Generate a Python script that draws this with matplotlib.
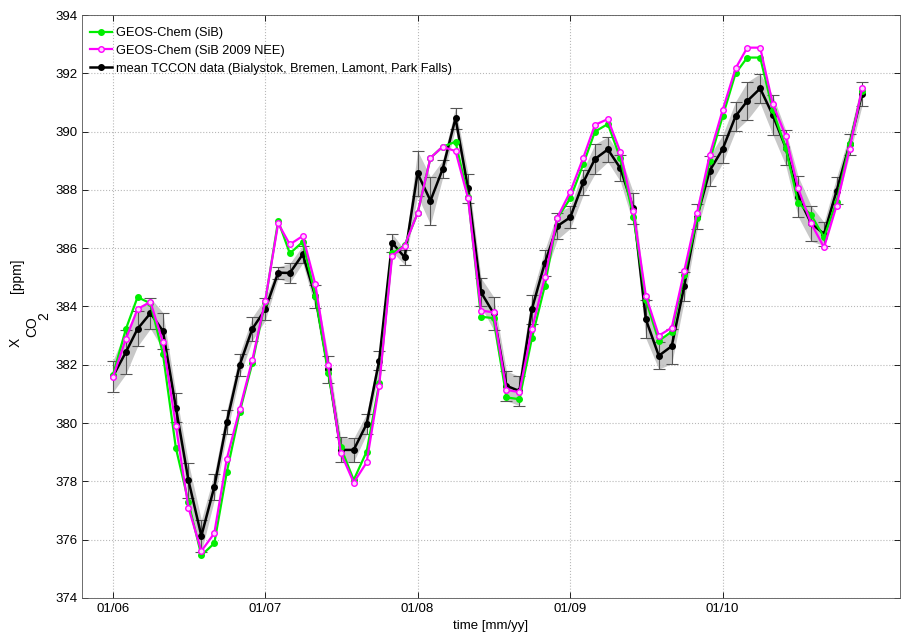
import numpy as np
import pandas as pd
import matplotlib
matplotlib.use('Agg')
import matplotlib.pyplot as plt
import matplotlib.dates as mdates

plt.rcParams['font.family'] = ['Liberation Sans', 'DejaVu Sans']

# monthly means, Jan 2006 - Dec 2010
months = pd.date_range('2006-01-01', periods=60, freq='MS')
year_ticks = pd.date_range('2006-01-01', periods=5, freq='YS')

geos_sib = [381.64, 383.22, 384.32, 384.11, 382.37, 379.14, 377.30, 375.46, 375.88, 378.32,
            380.39, 382.05, 384.16, 386.94, 385.82, 386.22, 384.37, 381.73, 379.17, 378.05,
            379.02, 381.36, 385.82, 386.10, 387.20, 389.10, 389.48, 389.65, 387.77, 383.65,
            383.60, 380.88, 380.82, 382.91, 384.71, 387.03, 387.71, 388.88, 390.00, 390.26,
            389.08, 387.08, 384.22, 382.82, 383.14, 385.08, 387.03, 389.00, 390.52, 392.00,
            392.54, 392.54, 390.74, 389.45, 387.56, 387.14, 386.37, 387.60, 389.56, 391.40]

geos_sib09 = [381.57, 382.88, 383.91, 384.16, 382.77, 379.90, 377.10, 375.61, 376.22, 378.78,
              380.49, 382.16, 384.20, 386.85, 386.13, 386.42, 384.77, 381.99, 378.98, 377.96,
              378.65, 381.28, 385.73, 386.09, 387.20, 389.10, 389.48, 389.33, 387.71, 383.86,
              383.80, 381.14, 381.06, 383.22, 385.00, 387.05, 387.94, 389.10, 390.23, 390.43,
              389.30, 387.28, 384.37, 383.00, 383.27, 385.22, 387.22, 389.20, 390.74, 392.17,
              392.88, 392.88, 390.95, 389.86, 388.05, 386.85, 386.03, 387.46, 389.40, 391.48]

tccon = [381.60, 382.43, 383.23, 383.77, 383.16, 380.53, 378.04, 376.13, 377.81, 380.04,
         382.00, 383.23, 383.90, 385.16, 385.15, 385.79, 384.35, 381.85, 379.08, 379.08,
         379.97, 382.14, 386.19, 385.69, 388.57, 387.63, 388.71, 390.46, 388.05, 384.49,
         383.77, 381.28, 381.10, 383.91, 385.50, 386.76, 387.06, 388.26, 389.06, 389.39,
         388.74, 387.37, 383.56, 382.31, 382.64, 384.70, 387.08, 388.66, 389.40, 390.53,
         391.05, 391.48, 390.57, 389.45, 387.77, 386.85, 386.49, 387.97, 389.56, 391.29]

tccon_err = [0.54, 0.75, 0.60, 0.53, 0.63, 0.50, 0.60, 0.55, 0.45, 0.40,
             0.38, 0.40, 0.38, 0.20, 0.33, 0.30, 0.40, 0.46, 0.43, 0.40,
             0.35, 0.32, 0.31, 0.25, 0.77, 0.82, 0.30, 0.36, 0.51, 0.49,
             0.57, 0.51, 0.50, 0.50, 0.44, 0.46, 0.38, 0.43, 0.51, 0.43,
             0.45, 0.54, 0.65, 0.46, 0.60, 0.50, 0.43, 0.51, 0.48, 0.50,
             0.65, 0.51, 0.67, 0.60, 0.69, 0.61, 0.40, 0.46, 0.37, 0.40]

tccon = np.array(tccon)
tccon_err = np.array(tccon_err)

W, H = 903, 633
fig = plt.figure(figsize=(W / 100, H / 100), dpi=100)
ax = fig.add_axes([0.0908, 0.0553, 0.9059, 0.921])

ax.fill_between(months, tccon - tccon_err, tccon + tccon_err, color='#c8c8c8', lw=0, zorder=1)
ax.errorbar(months, tccon, yerr=tccon_err, fmt='none', ecolor='#555555', elinewidth=0.8,
            capsize=4, capthick=0.8, zorder=2)
l3, = ax.plot(months, tccon, '-o', color='k', lw=1.8, ms=4, zorder=3,
              label='mean TCCON data (Bialystok, Bremen, Lamont, Park Falls)')
l1, = ax.plot(months, geos_sib, '-o', color='#00ee00', lw=1.6, ms=4, zorder=4,
              label='GEOS-Chem (SiB)')
l2, = ax.plot(months, geos_sib09, '-o', color='#ff00ff', lw=1.6, ms=4, mfc='#ffd0ff',
              mew=1.0, zorder=5, label='GEOS-Chem (SiB 2009 NEE)')

ax.set_ylim(374, 394)
ax.set_yticks(np.arange(374, 395, 2))
ax.set_xlim(pd.Timestamp('2005-10-19'), pd.Timestamp('2011-03-02'))
ax.set_xticks(year_ticks)
ax.xaxis.set_major_formatter(mdates.DateFormatter('%m/%y'))

ax.grid(True, ls=':', color='#b8b8b8', lw=0.8)
ax.tick_params(direction='in', top=True, right=True, labelsize=9.5, length=4, width=0.6)
for s in ax.spines.values():
    s.set_linewidth(0.6)
    s.set_color('#555555')

ax.set_xlabel('time [mm/yy]', fontsize=9.5, labelpad=4)

# y label drawn as MATLAB does: X with CO and 2 as stacked subscripts
def px(x, y):
    return x / W, 1 - y / H

fig.text(*px(16, 342), 'X', rotation=90, fontsize=10, ha='center', va='center')
fig.text(*px(32, 327), 'CO', rotation=90, fontsize=10, ha='center', va='center')
fig.text(*px(44, 316), '2', rotation=90, fontsize=10, ha='center', va='center')
fig.text(*px(17, 276), '[ppm]', rotation=90, fontsize=10, ha='center', va='center')

leg = ax.legend(handles=[l1, l2, l3], loc='upper left', bbox_to_anchor=(0.002, 0.99),
                frameon=False, fontsize=9.2, handlelength=1.75, handletextpad=0.25,
                labelspacing=0.45, borderaxespad=0.3, borderpad=0.2)

fig.savefig('out.png', dpi=100)
